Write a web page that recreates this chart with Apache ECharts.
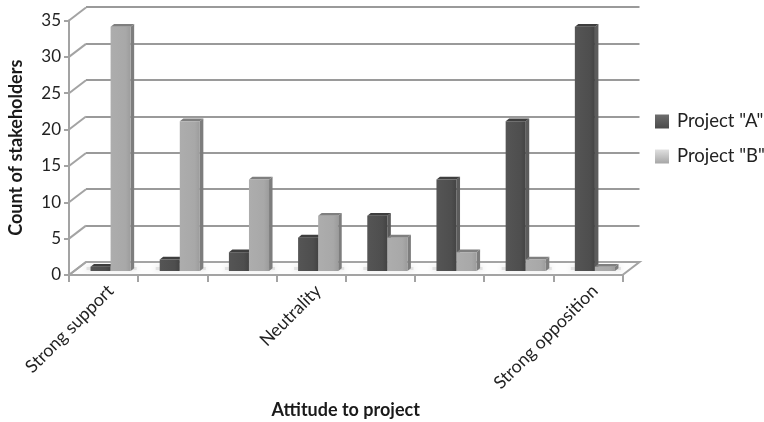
<!DOCTYPE html>
<html>
<head>
<meta charset="utf-8">
<style>html,body{margin:0;padding:0;background:#fff}#chart{width:764px;height:422px}</style>
<script src="https://cdn.jsdelivr.net/npm/echarts@6/dist/echarts.min.js"></script>
</head>
<body>
<div id="chart"></div>
<script>
// Stakeholder attitudes to two projects, drawn as pseudo-3D clustered columns.
const categories = ['Strong support', '', '', 'Neutrality', '', '', '', 'Strong opposition'];
const projectA = [1, 2, 3, 5, 8, 13, 21, 34];
const projectB = [34, 21, 13, 8, 5, 3, 2, 1];
const yTicks = [0, 5, 10, 15, 20, 25, 30, 35];

const FONT = 'Lato, "Open Sans", sans-serif';
const DX = 17, DY = -13;          // shift from front plane to back wall
const FLOOR_X = 7, FLOOR_Y = -4;  // shift of the column front face into the floor
const DEPTH_X = 3.5, DEPTH_Y = -2.8; // visible column depth

function columnItem(slot, palette) {
  return function (params, api) {
    const i = api.value(0), v = api.value(1);
    const base = api.coord([i, 0]);
    const top = api.coord([i, v]);
    const w = api.size([1, 0])[0] * 0.29;
    const x0 = base[0] + FLOOR_X + (slot - 1) * w;
    const x1 = x0 + w;
    const yb = base[1] + FLOOR_Y;
    const yt = top[1] - 1;
    return {
      type: 'group',
      children: [
        { type: 'polygon', shape: { points: [[x1, yb], [x1 + DEPTH_X, yb + DEPTH_Y], [x1 + DEPTH_X, yt + DEPTH_Y], [x1, yt]] },
          style: { fill: palette.side } },
        { type: 'polygon', shape: { points: [[x0, yt], [x0 + DEPTH_X, yt + DEPTH_Y], [x1 + DEPTH_X, yt + DEPTH_Y], [x1, yt]] },
          style: { fill: palette.top } },
        { type: 'rect', shape: { x: x0, y: yt, width: w, height: yb - yt },
          style: { fill: palette.front } }
      ]
    };
  };
}

const hGrad = (a, b, c) => new echarts.graphic.LinearGradient(0, 0, 1, 0, [
  { offset: 0, color: a }, { offset: 0.75, color: b }, { offset: 1, color: c }
]);
const paletteA = { front: hGrad('#555555', '#4e4e4e', '#434343'), side: '#5c5c5c', top: '#3e3e3e' };
const paletteB = { front: hGrad('#adadad', '#a8a8a8', '#9c9c9c'), side: '#7d7d7d', top: '#7f7f7f' };
const swatch = (a, b) => new echarts.graphic.LinearGradient(0, 0, 0, 1, [
  { offset: 0, color: a }, { offset: 1, color: b }
]);

const chart = echarts.init(document.getElementById('chart'), null, { renderer: 'canvas' });
chart.setOption({
  animation: false,
  backgroundColor: '#ffffff',
  grid: [
    { left: 69, top: 20.5, width: 553.5, height: 254.5, outerBoundsMode: 'none' },
    { left: 86, top: 7, width: 553.5, height: 255, outerBoundsMode: 'none' },
    // Carries only the rotated category labels, nudged toward the column clusters.
    { left: 76, top: 20.5, width: 553.5, height: 254.5, outerBoundsMode: 'none' }
  ],
  xAxis: [
    { type: 'category', gridIndex: 0, data: categories,
      axisLine: { lineStyle: { color: '#a3a3a3', width: 2 } },
      axisTick: { show: true, interval: 0, length: 7, lineStyle: { color: '#a3a3a3', width: 2 } },
      axisLabel: { show: false, interval: 0 },
      name: 'Attitude to project', nameLocation: 'middle', nameGap: 126,
      nameTextStyle: { fontFamily: FONT, fontSize: 18, fontWeight: 'bold', color: '#1a1a1a' } },
    { type: 'category', gridIndex: 1, data: categories, show: false },
    { type: 'category', gridIndex: 2, data: categories,
      axisLine: { show: false }, axisTick: { show: false },
      axisLabel: { interval: 0, rotate: 45, margin: 13, fontFamily: FONT, fontSize: 17.8, color: '#222222' } }
  ],
  yAxis: [
    { type: 'value', gridIndex: 0, min: 0, max: 35, interval: 5,
      axisLine: { show: true, lineStyle: { color: '#a3a3a3', width: 2 } },
      axisTick: { show: true, length: 5, lineStyle: { color: '#a3a3a3', width: 2 } },
      axisLabel: { margin: 8, fontFamily: FONT, fontSize: 17, color: '#222222' },
      splitLine: { show: false },
      name: 'Count of stakeholders', nameLocation: 'middle', nameGap: 44,
      nameTextStyle: { fontFamily: FONT, fontSize: 18, fontWeight: 'bold', color: '#1a1a1a' } },
    { type: 'value', gridIndex: 1, min: 0, max: 35, interval: 5,
      axisLine: { show: false }, axisTick: { show: false }, axisLabel: { show: false },
      splitLine: { show: true, lineStyle: { color: '#9a9a9a', width: 2 } } },
    { type: 'value', gridIndex: 2, min: 0, max: 35, interval: 5, show: false }
  ],
  legend: {
    orient: 'vertical', left: 650, top: 107, itemGap: 16, itemWidth: 14, itemHeight: 14,
    selectedMode: false,
    textStyle: { fontFamily: FONT, fontSize: 18.5, color: '#222222', padding: [0, 0, 0, 3] },
    data: [
      { name: 'Project "A"', icon: 'rect', itemStyle: { color: swatch('#6e6e6e', '#4a4a4a') } },
      { name: 'Project "B"', icon: 'rect', itemStyle: { color: swatch('#e0e0e0', '#a6a6a6') } }
    ]
  },
  series: [
    // Floor plane and the wall connectors running back from the value axis.
    { type: 'custom', xAxisIndex: 0, yAxisIndex: 0, silent: true, z: 1,
      data: yTicks.map(v => [0, v]),
      renderItem(params, api) {
        const p = api.coord([0, api.value(1)]);
        const half = api.size([1, 0])[0] / 2;
        const x = p[0] - half, y = p[1];
        const children = [{ type: 'line', shape: { x1: x, y1: y, x2: x + DX, y2: y + DY },
          style: { stroke: '#a3a3a3', lineWidth: 2, fill: null } }];
        if (api.value(1) === 0) {
          const span = half * 2 * categories.length;
          children.unshift({ type: 'polygon',
            shape: { points: [[x, y], [x + DX, y + DY], [x + span + DX, y + DY], [x + span, y]] },
            style: { fill: '#fdfdfd', stroke: '#a3a3a3', lineWidth: 2 } });
        }
        return { type: 'group', children };
      } },
    // Soft shadow on the floor beneath each column pair.
    { type: 'custom', xAxisIndex: 0, yAxisIndex: 0, silent: true, z: 2,
      data: categories.map((c, i) => [i, 0]),
      renderItem(params, api) {
        const p = api.coord([api.value(0), 0]);
        const w = api.size([1, 0])[0] * 0.29;
        return { type: 'rect',
          shape: { x: p[0] + FLOOR_X - w - 4, y: p[1] + FLOOR_Y - 4, width: 2 * w + 10, height: 3 },
          style: { fill: '#e2e2e2', shadowBlur: 6, shadowColor: '#dcdcdc' } };
      } },
    { name: 'Project "A"', type: 'custom', xAxisIndex: 0, yAxisIndex: 0, z: 3,
      itemStyle: { color: '#4c4c4c' },
      data: projectA.map((v, i) => [i, v]), renderItem: columnItem(0, paletteA) },
    { name: 'Project "B"', type: 'custom', xAxisIndex: 0, yAxisIndex: 0, z: 4,
      itemStyle: { color: '#a8a8a8' },
      data: projectB.map((v, i) => [i, v]), renderItem: columnItem(1, paletteB) }
  ]
});
</script>
</body>
</html>
